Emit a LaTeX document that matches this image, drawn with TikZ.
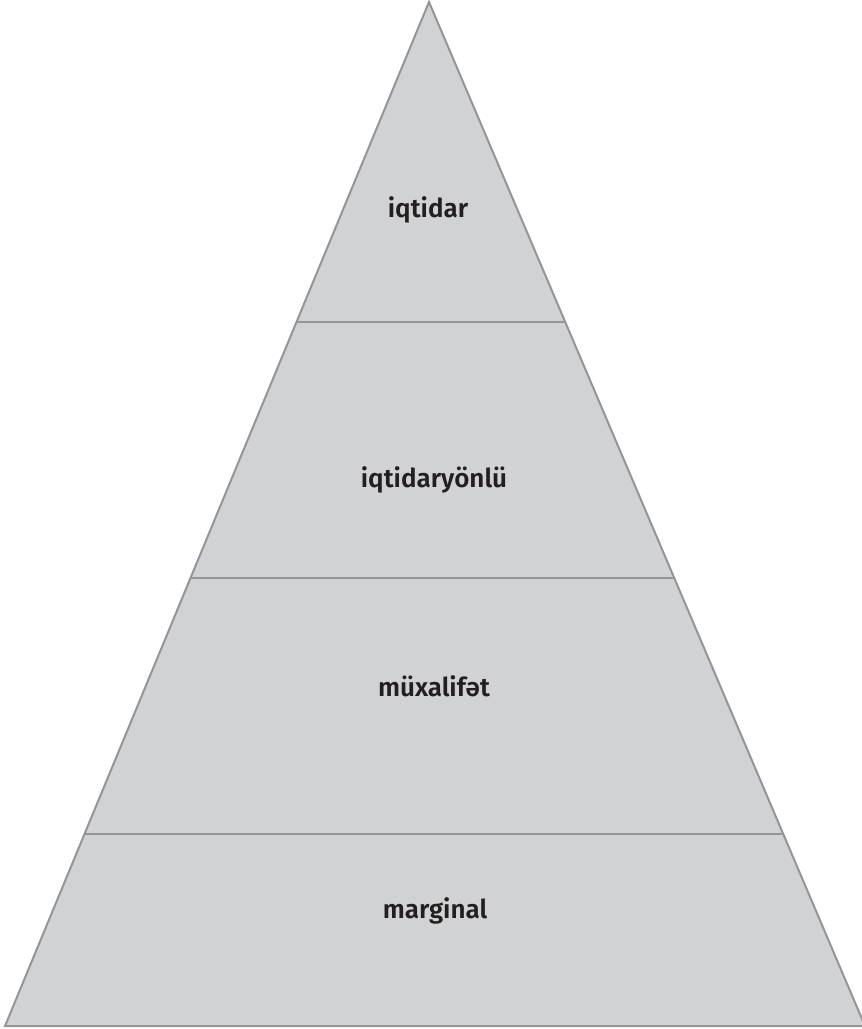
\documentclass[tikz,border=0pt]{standalone}
\usepackage{fontspec}
\setsansfont{Fira Sans}[BoldFont={Fira Sans SemiBold}]
\usepackage{tikz}
\usetikzlibrary{calc}

\definecolor{layerfill}{HTML}{D1D2D4}
\definecolor{layerline}{HTML}{939598}
\definecolor{labeltext}{HTML}{231F20}

\tikzset{
  layer/.style={fill=layerfill, draw=layerline, line width=2pt, line join=miter},
  divider/.style={draw=layerline, line width=2pt},
  tier/.style={anchor=base, inner sep=0pt, text=labeltext, font=\sffamily\bfseries\fontsize{26}{30}\selectfont}
}

\begin{document}
\begin{tikzpicture}[x=1pt,y=-1pt]
    \useasboundingbox (0,0) rectangle (862,1029);
    \coordinate (apex) at (429,2);
    \coordinate (left) at (5,1026);
    \coordinate (right) at (865,1026);
    \draw [layer] (apex) -- (left) -- (right) -- cycle;
    % layer boundaries
    \draw [divider] ($(apex)!0.3125!(left)$) -- ($(apex)!0.3125!(right)$);
    \draw [divider] ($(apex)!0.5625!(left)$) -- ($(apex)!0.5625!(right)$);
    \draw [divider] ($(apex)!0.8125!(left)$) -- ($(apex)!0.8125!(right)$);
    \node [tier] (power) at (428,217) {iqtidar};
    \node [tier] (propower) at (434,487) {iqtidaryönlü};
    \node [tier] (opposition) at (434,696) {müxalifət};
    \node [tier] (marginal) at (435,918) {marginal};
\end{tikzpicture}
\end{document}
